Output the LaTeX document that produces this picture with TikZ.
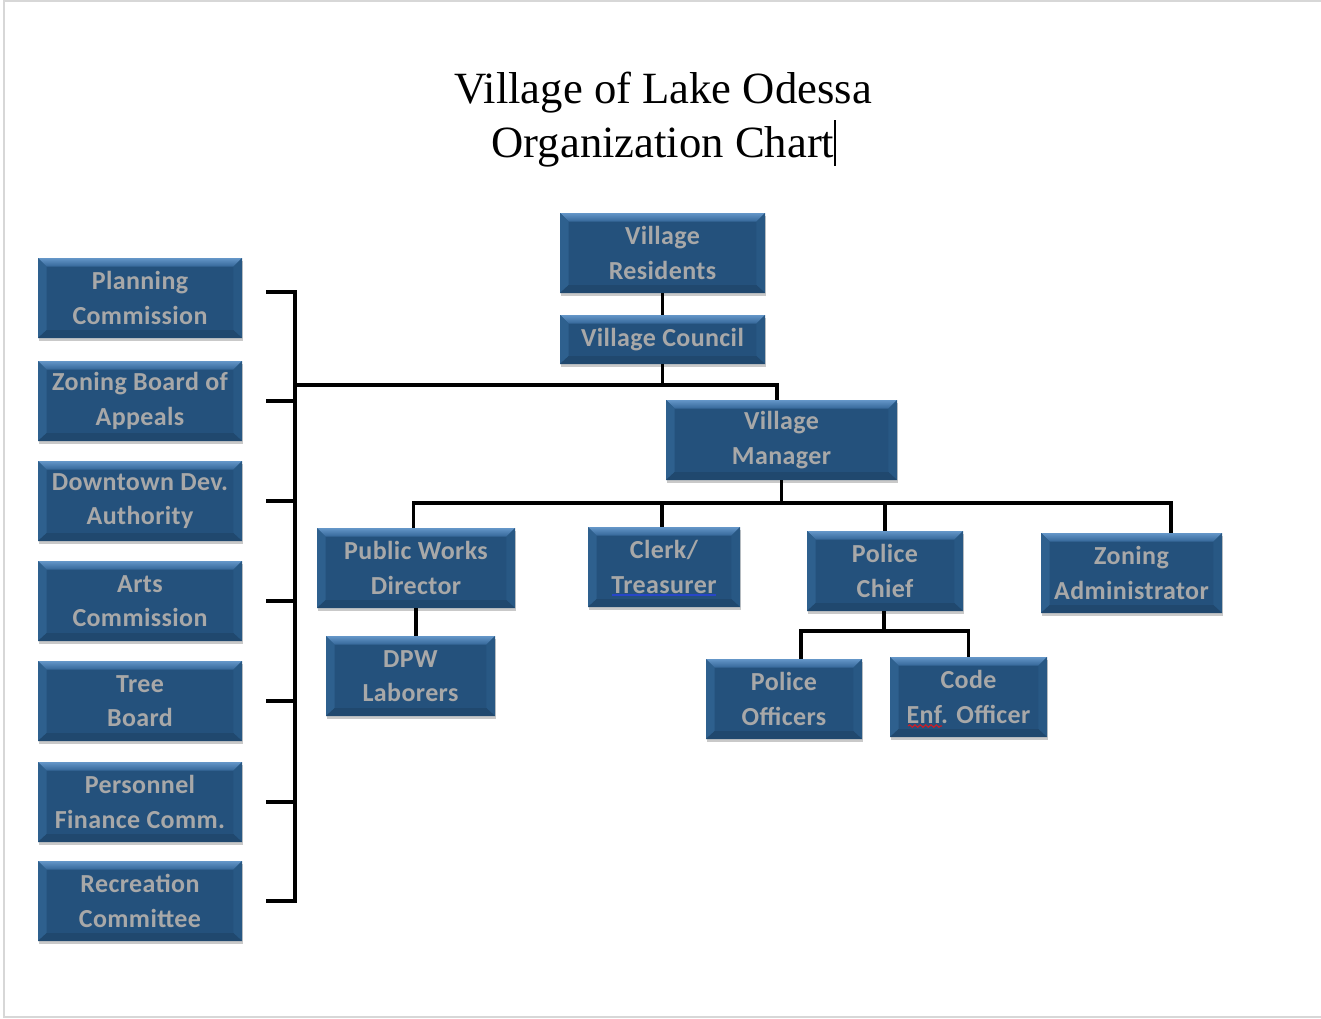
\documentclass[tikz,border=0pt]{standalone}
\usepackage{fontspec}
\usetikzlibrary{shadows,decorations.pathmorphing,calc}
\newfontfamily\cfont{Carlito}[LetterSpace=1.5]
\newfontfamily\tfont{Liberation Serif}
\definecolor{face}{RGB}{36,81,124}
\definecolor{bvtopA}{RGB}{100,150,200}
\definecolor{bvtopB}{RGB}{52,102,152}
\definecolor{bvside}{RGB}{46,96,142}
\definecolor{bvright}{RGB}{40,88,132}
\definecolor{bvbot}{RGB}{32,72,110}
\definecolor{txt}{RGB}{168,168,168}
\definecolor{framec}{RGB}{215,215,215}
\definecolor{spellblue}{RGB}{40,70,200}
\definecolor{spellred}{RGB}{200,30,40}
\begin{document}
\begin{tikzpicture}[x=0.75pt,y=-0.75pt,
  conn/.style={line width=2.3pt, draw=black},
  bx/.style 2 args={rectangle, inner sep=0pt, minimum width=#1*0.75pt, minimum height=#2*0.75pt,
    fill=face, text=txt, align=center,
    font=\cfont\bfseries\fontsize{19.5}{26}\selectfont,
    drop shadow={shadow xshift=0.6pt, shadow yshift=-2.2pt, opacity=0.3, fill=black!70},
    path picture={
      \path (path picture bounding box.north west) coordinate (pnw)
            (path picture bounding box.north east) coordinate (pne)
            (path picture bounding box.south west) coordinate (psw)
            (path picture bounding box.south east) coordinate (pse);
      \path ([xshift=6.5pt,yshift=-6.5pt]pnw) coordinate (inw)
            ([xshift=-6.5pt,yshift=-6.5pt]pne) coordinate (ine)
            ([xshift=6.5pt,yshift=6pt]psw) coordinate (isw)
            ([xshift=-6.5pt,yshift=6pt]pse) coordinate (ise);
      \shade[top color=bvtopA,bottom color=bvtopB] (pnw)--(pne)--(ine)--(inw)--cycle;
      \fill[bvside] (pnw)--(inw)--(isw)--(psw)--cycle;
      \fill[bvright] (pne)--(ine)--(ise)--(pse)--cycle;
      \fill[bvbot] (psw)--(isw)--(ise)--(pse)--cycle;
    }},
  ttl/.style={font=\tfont\fontsize{33.5}{40.5}\selectfont, text=black, inner sep=0pt, anchor=base}
]
\useasboundingbox (0,0) rectangle (1321,1018);
% page frame
\draw[framec, line width=1.5pt] (3.5,0) -- (3.5,1018);
\draw[framec, line width=1pt] (3.5,1) -- (1321,1);
\draw[framec, line width=1pt] (3.5,1017) -- (1321,1017);

% title
\node[ttl] (t1) at (663,103) {Village of Lake Odessa};
\node[ttl] (t2) at (663,157) {Organization Chart};
\draw[black, line width=0.8pt] (835,120) -- (835,166);

% boxes
\node[bx={205}{80}] (res) at (662.5,253) {Village\\Residents};
\node[bx={205}{49}] (cou) at (662.5,339.5) {Village Council};
\node[bx={231}{80}] (mgr) at (781.5,440) {Village\\Manager};
\node[bx={198}{80}] (pw) at (416,568) {Public Works\\Director};
\node[bx={169}{80}] (dpw) at (410.5,676) {DPW\\Laborers};
\node[bx={152}{80}] (clk) at (664,567) {Clerk/\\Treasurer};
\node[bx={156}{80}] (chf) at (885,571) {Police\\Chief};
\node[bx={181}{80}] (za) at (1131.5,573) {Zoning\\Administrator};
\node[bx={156}{80}] (off) at (784,699) {Police\\Officers};
\node[bx={157}{80}] (cef) at (968.5,697) {Code\\Enf. Officer};

\node[bx={204}{80}] (pc) at (140,298) {Planning\\Commission};
\node[bx={204}{80}] (zba) at (140,401) {Zoning Board of\\Appeals};
\node[bx={204}{80}] (dda) at (140,501) {Downtown Dev.\\Authority};
\node[bx={204}{80}] (ac) at (140,601) {Arts\\Commission};
\node[bx={204}{80}] (tb) at (140,701) {Tree\\Board};
\node[bx={204}{80}] (pf) at (140,802) {Personnel\\Finance Comm.};
\node[bx={204}{80}] (rc) at (140,901) {Recreation\\Committee};

% spell-check marks
\draw[spellblue, line width=1.6pt] (612,595) -- (716,595);
\draw[spellred, line width=0.9pt, decorate, decoration={snake, amplitude=0.9pt, segment length=4pt}] (908,726) -- (942,726);

% junction coordinates
\coordinate (cb) at (660,385);
\coordinate (bx) at (295,385);
\coordinate (mb) at (781.5,503);
\coordinate (chb) at (884,631);

% connectors
\draw[conn] (res.south) -- (cou.north);
\draw[conn] (cou.south) -- (cou.south |- cb) -| ([xshift=-3.4pt]mgr.north);
\draw[conn] (bx) -- (cou.south |- cb);
% bracket of left boards
\draw[conn] ([xshift=18pt,yshift=4.5pt]pc.east) -| (bx |- rc.east) -- ([xshift=18pt]rc.east);
\foreach \b in {zba,dda,ac,tb,pf}{
  \draw[conn] ([xshift=18pt]\b.east) -- (bx |- \b.east);
}
% manager bus
\draw[conn] (mgr.south) -- (mb);
\draw[conn] ([xshift=-2.2pt]pw.north) |- ([xshift=29.6pt]za.north |- mb) -- ([xshift=29.6pt]za.north);
\draw[conn] ([xshift=-1.5pt]clk.north |- mb) -- ([xshift=-1.5pt]clk.north);
\draw[conn] (chf.north |- mb) -- (chf.north);
% public works
\draw[conn] (pw.south) -- (pw.south |- dpw.north);
% police chief
\draw[conn] ([xshift=-0.75pt]chf.south) -- ([xshift=-0.75pt]chf.south |- chb);
\draw[conn] ([xshift=12.75pt]off.north) |- (cef.north |- chb) -- (cef.north);
\end{tikzpicture}
\end{document}
